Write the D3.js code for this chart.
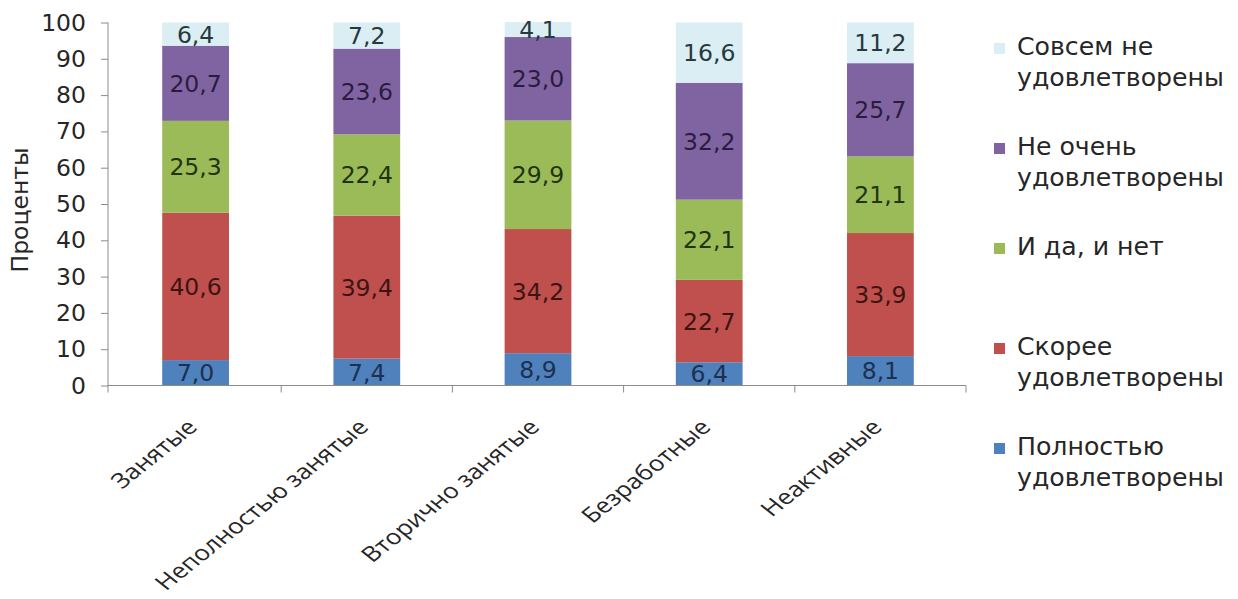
<!DOCTYPE html>
<html><head><meta charset="utf-8">
<script src="https://cdn.jsdelivr.net/npm/d3@7"></script>
<style>body{margin:0;background:#fff}svg{display:block}</style>
</head><body>
<svg id="chart" width="1238" height="599"></svg>
<script>
const categories = ["Занятые", "Неполностью занятые", "Вторично занятые", "Безработные", "Неактивные"];
const seriesNames = ["Полностью удовлетворены", "Скорее удовлетворены", "И да, и нет", "Не очень удовлетворены", "Совсем не удовлетворены"];
const fully = [7.0, 7.4, 8.9, 6.4, 8.1];
const rather = [40.6, 39.4, 34.2, 22.7, 33.9];
const yesNo = [25.3, 22.4, 29.9, 22.1, 21.1];
const notVery = [20.7, 23.6, 23.0, 32.2, 25.7];
const notAtAll = [6.4, 7.2, 4.1, 16.6, 11.2];
const yTicks = [0, 10, 20, 30, 40, 50, 60, 70, 80, 90, 100];
const legendLines = [["Совсем не", "удовлетворены"], ["Не очень", "удовлетворены"], ["И да, и нет"], ["Скорее", "удовлетворены"], ["Полностью", "удовлетворены"]];

const seriesValues = [fully, rather, yesNo, notVery, notAtAll];
const colors = ["#4f81bd", "#c0504d", "#9bbb59", "#8064a2", "#dbeef4"];
const labelColors = ["#1c3050", "#3e1413", "#22330f", "#2b1c3f", "#27393d"];

const svg = d3.select("#chart");
const font = "'DejaVu Sans', Verdana, sans-serif";
const x0 = 108, x1 = 966, yTop = 22.5, yBot = 385.5;

const x = d3.scaleBand().domain(categories).range([x0 + 2, x1]).padding(0);
const y = d3.scaleLinear().domain([0, 100]).range([yBot, yTop]);
const barW = x.bandwidth() * 0.39;

const rows = categories.map((c, i) => {
  const r = {cat: c};
  seriesNames.forEach((s, k) => r[s] = seriesValues[k][i]);
  return r;
});
const stacked = d3.stack().keys(seriesNames)(rows);

// bars
stacked.forEach((layer, k) => {
  const g = svg.append("g");
  g.selectAll("rect").data(layer).join("rect")
    .attr("x", d => x(d.data.cat) + x.bandwidth() / 2 - barW / 2)
    .attr("width", barW)
    .attr("y", d => y(d[1]))
    .attr("height", d => y(d[0]) - y(d[1]))
    .attr("fill", colors[k]);
  g.selectAll("text").data(layer).join("text")
    .attr("x", d => x(d.data.cat) + x.bandwidth() / 2)
    .attr("y", d => (y(d[0]) + y(d[1])) / 2)
    .attr("dy", "0.36em")
    .attr("text-anchor", "middle")
    .attr("font-family", font)
    .attr("font-size", 23.5)
    .attr("fill", labelColors[k])
    .text(d => d3.format(".1f")(d[1] - d[0]).replace(".", ","));
});

// y axis
const yAxis = svg.append("g").attr("transform", `translate(${x0},0)`)
  .call(d3.axisLeft(y).tickValues(yTicks).tickSize(7).tickPadding(15).tickSizeOuter(0));
yAxis.select(".domain").attr("stroke", "#8c8c8c").attr("d", `M0,${yTop}V${yBot + 7}`);
yAxis.selectAll(".tick line").attr("stroke", "#8c8c8c");
yAxis.selectAll(".tick text").attr("font-family", font).attr("font-size", 23.5).attr("fill", "#262626");

// x axis
const boundaries = categories.slice(1).map(c => x(c)).concat([x1]);
const xg = svg.append("g");
xg.append("line").attr("x1", x0).attr("x2", x1).attr("y1", yBot).attr("y2", yBot).attr("stroke", "#8c8c8c");
xg.selectAll("line.t").data(boundaries).join("line").attr("class", "t")
  .attr("x1", d => d).attr("x2", d => d).attr("y1", yBot).attr("y2", yBot + 7).attr("stroke", "#8c8c8c");
xg.selectAll("text").data(categories).join("text")
  .attr("transform", c => `translate(${x(c) + x.bandwidth() / 2 + 3},${yBot + 43}) scale(1.25,1) rotate(-45)`)
  .attr("text-anchor", "end")
  .attr("font-family", "'Open Sans', sans-serif")
  .attr("font-size", 21)
  .attr("fill", "#262626")
  .text(c => c);

// y label
svg.append("text")
  .attr("transform", "translate(28,210) rotate(-90)")
  .attr("text-anchor", "middle")
  .attr("font-family", font)
  .attr("font-size", 23.5)
  .attr("fill", "#262626")
  .text("Проценты");

// legend
const legendColors = colors.slice().reverse();
const lg = svg.append("g");
legendLines.forEach((lines, i) => {
  const by = 55 + i * 100;
  lg.append("rect").attr("x", 994).attr("y", by - 12).attr("width", 11).attr("height", 11).attr("fill", legendColors[i]);
  const t = lg.append("text").attr("x", 1017).attr("y", by).attr("font-family", font).attr("font-size", 25.2).attr("fill", "#262626");
  lines.forEach((ln, j) => t.append("tspan").attr("x", 1017).attr("dy", j === 0 ? 0 : 31).text(ln));
});
</script>
</body></html>
